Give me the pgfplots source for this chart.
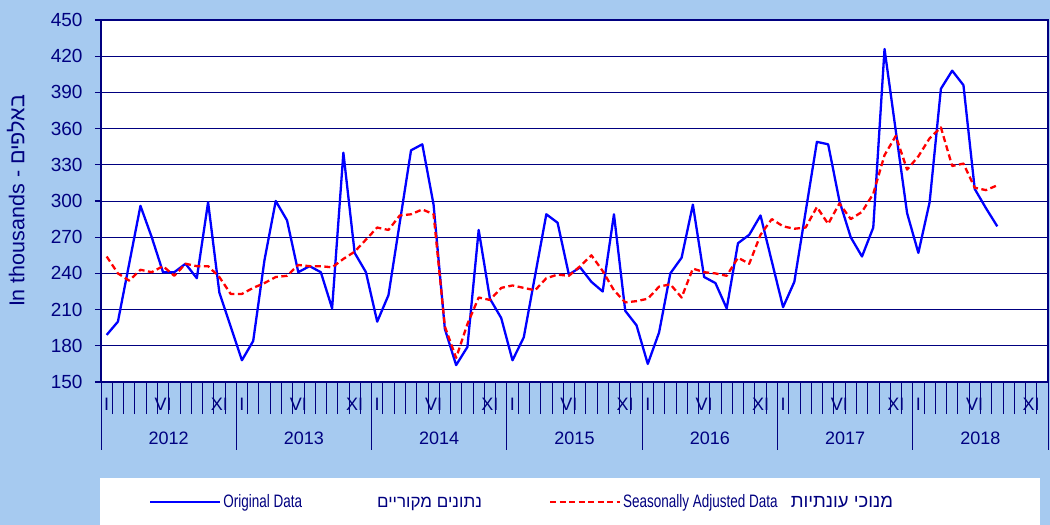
\documentclass[border=0pt]{standalone}
\usepackage{fontspec}
\setmainfont{Liberation Sans}
\newfontfamily\hebfont[Script=Hebrew]{Liberation Sans}
\newfontfamily\legfont[FakeStretch=0.75]{Liberation Sans}
\newfontfamily\heblegfont[Script=Hebrew]{Liberation Sans}
\TeXXeTstate=1
\usepackage{pgfplots}
\usepackage{pgfplotstable}
\pgfplotsset{compat=1.18}
\definecolor{navy}{HTML}{000080}
\definecolor{bgblue}{HTML}{A6CAF0}

\pgfplotstableread{
m orig sa
0 189 254
1 200 240
2 248 234
3 296 243
4 270 241
5 241 246
6 241 238
7 248 248
8 236 246
9 299 246
10 224 237
11 196 223
12 168 223
13 184 228
14 251 232
15 300 237
16 284 238
17 241 247
18 246 246
19 241 246
20 211 245
21 340 252
22 257 258
23 241 268
24 200 278
25 222 276
26 282 288
27 342 289
28 347 293
29 297 289
30 194 196
31 164 170
32 179 198
33 276 220
34 219 218
35 203 228
36 168 230
37 187 228
38 238 226
39 289 236
40 282 239
41 239 238
42 245 246
43 233 255
44 225 242
45 289 226
46 209 216
47 197 217
48 165 219
49 191 229
50 240 231
51 253 220
52 297 244
53 237 241
54 232 240
55 211 238
56 265 253
57 272 248
58 288 272
59 250 285
60 212 279
61 233 277
62 291 278
63 349 295
64 347 281
65 300 298
66 270 285
67 254 291
68 278 306
69 426 338
70 358 354
71 290 326
72 257 337
73 299 352
74 393 361
75 408 329
76 396 331
77 310 311
78 294 309
79 279 313
}\datatable

\begin{document}
\begin{tikzpicture}
\path[use as bounding box] (0,0) rectangle (1050pt,525pt);
\fill[bgblue] (0,0) rectangle (1050pt,525pt);
\fill[white] (100pt,0) rectangle (1040pt,47pt);
\begin{axis}[
  at={(101pt,143pt)}, anchor=south west,
  width=947pt, height=362pt, scale only axis,
  xmin=-0.5, xmax=83.5, ymin=150, ymax=450,
  ytick={150,180,...,450},
  xtick={0,5,10,12,17,22,24,29,34,36,41,46,48,53,58,60,65,70,72,77,82},
  xticklabels={I,VI,XI,I,VI,XI,I,VI,XI,I,VI,XI,I,VI,XI,I,VI,XI,I,VI,XI},
  major x tick style={draw=none},
  minor xtick={-0.5,0.5,...,83.5},
  minor tick length=32pt,
  major tick length=6pt,
  tick align=outside,
  xtick pos=bottom, ytick pos=left,
  minor x tick style={navy, line width=0.8pt},
  y tick style={navy, line width=1.2pt},
  ymajorgrids, major grid style={navy, line width=0.9pt},
  axis line style={navy, line width=1.5pt},
  axis background/.style={fill=white},
  tick label style={font=\fontsize{18}{20}\selectfont, text=navy},
  yticklabel style={font=\fontsize{19}{21}\selectfont, xshift=-9pt},
  xticklabel style={yshift=-7pt},
  /pgf/number format/assume math mode=true,
  ylabel={In thousands - {\hebfont\beginR באלפים\endR}},
  ylabel style={at={(axis description cs:-0.09,0.5)}, anchor=center, font=\fontsize{21.5}{24}\selectfont, text=navy},
  clip=false,
  legend columns=2,
  legend style={draw=none, fill=none, at={(0.4446,-0.3315)}, anchor=center,
    font=\legfont\fontsize{18}{20}\selectfont, text=navy,
    /tikz/every even column/.append style={column sep=65pt}},
  legend image code/.code={\draw[#1] (0pt,0pt) -- (70pt,0pt);},
]
\addplot[blue, line width=2.3pt, line join=round] table[x=m,y=orig]{\datatable};
\addlegendentry{Original Data\hspace{75pt}{\heblegfont\fontsize{17}{20}\selectfont\beginR נתונים מקוריים\endR}}
\addplot[red, line width=2.3pt, line join=round, dash pattern=on 6pt off 3.5pt] table[x=m,y=sa]{\datatable};
\addlegendentry{Seasonally Adjusted Data\hspace{13pt}{\heblegfont\fontsize{18.5}{20}\selectfont\beginR מנוכי עונתיות\endR}}
\pgfplotsinvokeforeach{-0.5,11.5,23.5,35.5,47.5,59.5,71.5,83.5}{
  \draw[navy, line width=1pt] (axis cs:#1,150) -- ++(0pt,-68pt);
}
\node[navy, font=\fontsize{18}{20}\selectfont] at ([yshift=-56pt]axis cs:5.5,150) {2012};
\node[navy, font=\fontsize{18}{20}\selectfont] at ([yshift=-56pt]axis cs:17.5,150) {2013};
\node[navy, font=\fontsize{18}{20}\selectfont] at ([yshift=-56pt]axis cs:29.5,150) {2014};
\node[navy, font=\fontsize{18}{20}\selectfont] at ([yshift=-56pt]axis cs:41.5,150) {2015};
\node[navy, font=\fontsize{18}{20}\selectfont] at ([yshift=-56pt]axis cs:53.5,150) {2016};
\node[navy, font=\fontsize{18}{20}\selectfont] at ([yshift=-56pt]axis cs:65.5,150) {2017};
\node[navy, font=\fontsize{18}{20}\selectfont] at ([yshift=-56pt]axis cs:77.5,150) {2018};
\end{axis}
\end{tikzpicture}
\end{document}
